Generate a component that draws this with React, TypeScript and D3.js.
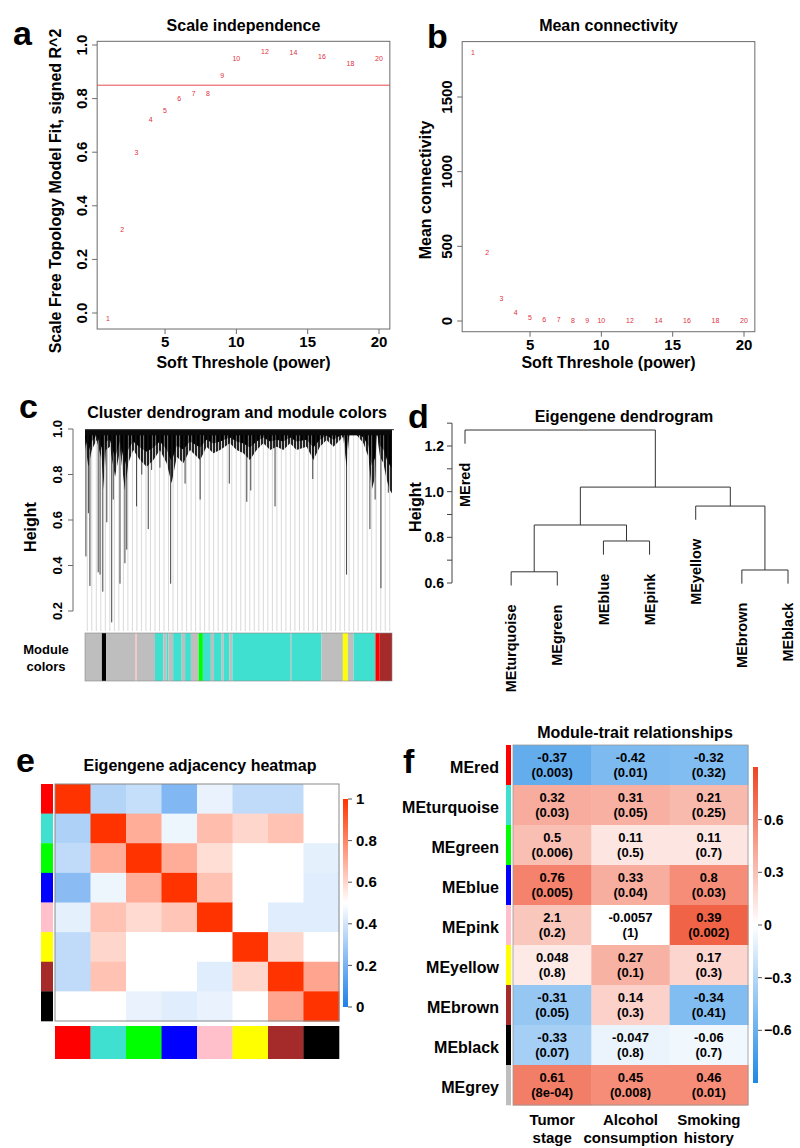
import React from 'react';
import * as d3 from 'd3';

const FONT = "'Liberation Sans', Arial, Helvetica, sans-serif";

// ---------- Panel a / b : soft threshold ----------
const powers = [1, 2, 3, 4, 5, 6, 7, 8, 9, 10, 12, 14, 16, 18, 20];
const scaleFitR2 = [-0.02, 0.313, 0.597, 0.72, 0.754, 0.8, 0.82, 0.82, 0.887, 0.949, 0.974, 0.971, 0.957, 0.929, 0.951];
const r2Cutoff = 0.85;
const meanConnectivity = [1799, 460, 152, 58, 25, 13, 7, 4, 2, 1.5, 1, 0.6, 0.4, 0.3, 0.2];
const powerTicks = [5, 10, 15, 20];
const r2Ticks = [0, 0.2, 0.4, 0.6, 0.8, 1.0];
const kTicks = [0, 500, 1000, 1500];

// ---------- Panel c : gene dendrogram ----------
const geneHeightTicks = [0.2, 0.4, 0.6, 0.8, 1.0];
// bottom edge of dense merge band: [leaf position 0-100, height]
const denseBand: [number, number][] = [
  [0, 0.937], [1.1, 0.834], [2.2, 0.908], [3.8, 0.952], [5.4, 0.864], [6.2, 0.732], [6.8, 0.908], [8.1, 0.922],
  [9.8, 0.79], [11.4, 0.908], [13.0, 0.732], [14.1, 0.849], [15.7, 0.908], [17.9, 0.864], [20.1, 0.834],
  [22.3, 0.864], [24.4, 0.908], [26.6, 0.849], [28.2, 0.761], [29.9, 0.878], [32.0, 0.849], [34.2, 0.908],
  [37.5, 0.864], [39.6, 0.922], [41.8, 0.893], [44.0, 0.908], [47.2, 0.937], [49.4, 0.908], [51.6, 0.893],
  [53.7, 0.864], [55.9, 0.908], [58.1, 0.937], [60.3, 0.908], [62.4, 0.922], [64.6, 0.908], [66.8, 0.937],
  [68.9, 0.908], [72.2, 0.922], [74.4, 0.864], [76.5, 0.922], [78.7, 0.952], [80.9, 0.922], [84.1, 0.966],
  [85.2, 0.834], [86.1, 0.974], [88.5, 0.974], [90.7, 0.937], [92.3, 0.878], [93.4, 0.732], [94.5, 0.79],
  [95.0, 0.981], [96.1, 0.878], [97.2, 0.849], [98.3, 0.776], [99.3, 0.732], [100, 0.717],
];
// deeper branches: [leaf position, lowest height]
const deepBranches: [number, number][] = [
  [0.3, 0.44], [1.1, 0.63], [1.6, 0.31], [4.3, 0.37], [4.9, 0.36], [5.8, 0.285], [7.1, 0.59], [8.7, 0.15],
  [9.2, 0.69], [11.4, 0.32], [13.0, 0.41], [13.6, 0.47], [16.8, 0.66], [18.5, 0.8], [20.6, 0.56], [21.7, 0.82],
  [24.4, 0.83], [27.9, 0.32], [32.6, 0.76], [37.5, 0.69], [47.0, 0.76], [52.7, 0.68], [54.0, 0.73], [61.9, 0.66],
  [74.2, 0.78], [85.2, 0.36], [92.8, 0.56], [94.5, 0.69], [96.4, 0.3], [98.8, 0.72],
];
const leafLineCount = 68;
// module colour bar: [start, end, colour]
const moduleSegments: [number, number, string][] = [
  [0, 5.5, 'grey'], [5.5, 6.9, 'black'], [6.9, 16.5, 'grey'], [16.5, 16.9, 'pink'], [16.9, 22.8, 'grey'],
  [22.8, 25.5, 'turquoise'], [25.5, 26.6, 'grey'], [26.6, 27.2, 'turquoise'], [27.2, 28.7, 'grey'],
  [28.7, 31.5, 'turquoise'], [31.5, 32.6, 'grey'], [32.6, 34.5, 'turquoise'], [34.5, 37.0, 'grey'],
  [37.0, 38.4, 'green'], [38.4, 41.0, 'turquoise'], [41.0, 42.0, 'grey'], [42.0, 44.5, 'turquoise'],
  [44.5, 45.2, 'grey'], [45.2, 47.0, 'turquoise'], [47.0, 48.0, 'grey'], [48.0, 66.8, 'turquoise'],
  [66.8, 67.2, 'grey'], [67.2, 77.0, 'turquoise'], [77.0, 84.0, 'grey'], [84.0, 85.6, 'yellow'],
  [85.6, 87.5, 'grey'], [87.5, 94.6, 'turquoise'], [94.6, 96.0, 'red'], [96.0, 100, 'brown'],
];

// ---------- Panel d : eigengene dendrogram ----------
const eigenLeaves = ['MEred', 'MEturquoise', 'MEgreen', 'MEblue', 'MEpink', 'MEyellow', 'MEbrown', 'MEblack'];
// hclust-style merges: negative = leaf (1-based), positive = earlier merge; third = height
const eigenMerges: [number, number, number][] = [
  [-2, -3, 0.649], [-7, -8, 0.657], [-4, -5, 0.784], [1, 3, 0.854], [-6, 2, 0.937], [4, 5, 1.02], [-1, 6, 1.27],
];
const eigenHeightTicks = [0.6, 0.7, 0.8, 0.9, 1.0, 1.1, 1.2, 1.3];
const eigenHeightLabels = [0.6, 0.8, 1.0, 1.2];

// ---------- Panel e : adjacency heatmap ----------
const moduleColors = ['red', 'turquoise', 'green', 'blue', 'pink', 'yellow', 'brown', 'black'];
const adjacency = [
  [1, 0.33, 0.37, 0.22, 0.45, 0.36, 0.36, 0.5],
  [0.32, 1, 0.7, 0.46, 0.66, 0.6, 0.65, 0.5],
  [0.36, 0.7, 1, 0.7, 0.58, 0.5, 0.5, 0.44],
  [0.24, 0.46, 0.7, 1, 0.65, 0.5, 0.5, 0.43],
  [0.44, 0.65, 0.59, 0.64, 1, 0.5, 0.43, 0.43],
  [0.36, 0.6, 0.5, 0.5, 0.5, 1, 0.6, 0.5],
  [0.36, 0.65, 0.5, 0.5, 0.43, 0.6, 1, 0.72],
  [0.5, 0.5, 0.45, 0.43, 0.45, 0.5, 0.72, 1],
];
const adjTicks = [0, 0.2, 0.4, 0.6, 0.8, 1];

// ---------- Panel f : module-trait ----------
const traitModules = ['MEred', 'MEturquoise', 'MEgreen', 'MEblue', 'MEpink', 'MEyellow', 'MEbrown', 'MEblack', 'MEgrey'];
const traitModuleColors = ['red', 'turquoise', 'green', 'blue', 'pink', 'yellow', 'brown', 'black', 'grey'];
const traits = [['Tumor', 'stage'], ['Alcohol', 'consumption'], ['Smoking', 'history']];
const traitCorText = [
  ['-0.37', '-0.42', '-0.32'], ['0.32', '0.31', '0.21'], ['0.5', '0.11', '0.11'], ['0.76', '0.33', '0.8'],
  ['2.1', '-0.0057', '0.39'], ['0.048', '0.27', '0.17'], ['-0.31', '0.14', '-0.34'], ['-0.33', '-0.047', '-0.06'],
  ['0.61', '0.45', '0.46'],
];
const traitPText = [
  ['0.003', '0.01', '0.32'], ['0.03', '0.05', '0.25'], ['0.006', '0.5', '0.7'], ['0.005', '0.04', '0.03'],
  ['0.2', '1', '0.002'], ['0.8', '0.1', '0.3'], ['0.05', '0.3', '0.41'], ['0.07', '0.8', '0.7'],
  ['8e-04', '0.008', '0.01'],
];
// colour level of each cell
const traitColorLevel = [
  [-0.62, -0.52, -0.5], [0.4, 0.38, 0.33], [0.31, 0.12, 0.12], [0.6, 0.39, 0.55], [0.27, 0, 0.75],
  [0.1, 0.37, 0.2], [-0.42, 0.22, -0.5], [-0.36, -0.08, -0.06], [0.62, 0.55, 0.55],
];
const traitTicks = [-0.6, -0.3, 0, 0.3, 0.6];

const COLORS: Record<string, string> = {
  grey: '#BEBEBE', black: '#000000', pink: '#FFC0CB', turquoise: '#40E0D0', green: '#00FF00',
  yellow: '#FFFF00', red: '#FF0000', brown: '#A52A2A', blue: '#0000FF',
};

const bold = { fontWeight: 700 as const };

function PanelLabel({ x, y, t }: { x: number; y: number; t: string }) {
  return <text x={x} y={y} fontSize={34} style={bold}>{t}</text>;
}

function ThresholdPanel({ kind }: { kind: 'a' | 'b' }) {
  const isA = kind === 'a';
  const x = isA ? d3.scaleLinear().domain([1, 20]).range([108, 379]) : d3.scaleLinear().domain([1, 20]).range([473, 744]);
  const y = isA ? d3.scaleLinear().domain([0, 1]).range([313, 45]) : d3.scaleLinear().domain([0, 1500]).range([321, 97]);
  const vals = isA ? scaleFitR2 : meanConnectivity;
  const [ylo, yhi] = d3.extent(vals) as [number, number];
  const ypad = (yhi - ylo) * 0.04;
  const xl = x(1 - 0.76), xr = x(20.76);
  const yt = y(yhi + ypad), yb = y(ylo - ypad);
  const yTicks = isA ? r2Ticks : kTicks;
  const fmt = isA ? d3.format('.1f') : d3.format('d');
  const cx = (xl + xr) / 2;
  return (
    <g>
      <rect x={xl} y={yt} width={xr - xl} height={yb - yt} fill="none" stroke="#6b6b6b" strokeWidth={1} />
      {isA && <line x1={xl} x2={xr} y1={y(r2Cutoff)} y2={y(r2Cutoff)} stroke="#e84a4a" strokeWidth={1} />}
      {powers.map((p, i) => (
        <text key={p} x={x(p)} y={y(vals[i])} dy="0.35em" textAnchor="middle" fontSize={7} fill="#e0303a">{p}</text>
      ))}
      {powerTicks.map((t) => (
        <g key={t}>
          <line x1={x(t)} x2={x(t)} y1={yb} y2={yb + 5} stroke="#6b6b6b" />
          <text x={x(t)} y={yb + 18} textAnchor="middle" fontSize={15} style={bold}>{t}</text>
        </g>
      ))}
      {yTicks.map((t) => (
        <g key={t}>
          <line x1={xl - 5} x2={xl} y1={y(t)} y2={y(t)} stroke="#6b6b6b" />
          <text transform={`translate(${xl - 15},${y(t)}) rotate(-90)`} dy="0.35em" textAnchor="middle" fontSize={15} style={bold}>{fmt(t)}</text>
        </g>
      ))}
      <text x={cx} y={368} textAnchor="middle" fontSize={16} style={bold}>Soft Threshole (power)</text>
      <text x={cx} y={31} textAnchor="middle" fontSize={16} style={bold}>{isA ? 'Scale independence' : 'Mean connectivity'}</text>
      <text transform={`translate(${isA ? 55 : 425},${isA ? 191 : 190}) rotate(-90)`} dy="0.35em" textAnchor="middle" fontSize={16} style={bold}>
        {isA ? 'Scale Free Topology Model Fit, signed R^2' : 'Mean connectivity'}
      </text>
    </g>
  );
}

function PanelC() {
  const x = d3.scaleLinear().domain([0, 100]).range([85, 392]);
  const y = d3.scaleLinear().domain([0.2, 1.0]).range([611, 429]);
  const band = d3.area<[number, number]>().x((d) => x(d[0])).y0(y(0.997)).y1((d) => y(d[1]));
  const leafPos = d3.range(leafLineCount).map((i) => (i + 0.5) * (100 / leafLineCount));
  const barTop = 633, barBot = 681;
  return (
    <g>
      <defs>
        <pattern id="hatchC" patternUnits="userSpaceOnUse" width={3} height={4}>
          <rect x={0} y={0} width={2.2} height={4} fill="#0d0d0d" />
        </pattern>
        <pattern id="hatchC2" patternUnits="userSpaceOnUse" width={4} height={4}>
          <rect x={0.5} y={0} width={3} height={4} fill="#000" />
        </pattern>
      </defs>
      <text x={237} y={418} textAnchor="middle" fontSize={16} style={bold}>Cluster dendrogram and module colors</text>
      <line x1={73} x2={73} y1={y(1)} y2={y(0.2)} stroke="#6b6b6b" />
      {geneHeightTicks.map((t) => (
        <g key={t}>
          <line x1={68} x2={73} y1={y(t)} y2={y(t)} stroke="#6b6b6b" />
          <text transform={`translate(57,${y(t)}) rotate(-90)`} dy="0.35em" textAnchor="middle" fontSize={13} style={bold}>{t.toFixed(1)}</text>
        </g>
      ))}
      <text transform={`translate(30,527) rotate(-90)`} dy="0.35em" textAnchor="middle" fontSize={16} style={bold}>Height</text>
      {leafPos.map((p, i) => (
        <line key={i} x1={x(p)} x2={x(p)} y1={y(0.99)} y2={631} stroke="#cfcfcf" strokeWidth={0.8} />
      ))}
      {deepBranches.map(([p, h], i) => (
        <line key={i} x1={x(p)} x2={x(p)} y1={y(0.97)} y2={y(h)} stroke="#444" strokeWidth={1} />
      ))}
      <path d={band(denseBand) || ''} fill="url(#hatchC)" opacity={0.9} />
      <path d={band(denseBand.map(([p, h]) => [p, 1 - (1 - h) * 0.6] as [number, number])) || ''} fill="url(#hatchC2)" />
      <rect x={x(0)} y={y(0.997)} width={x(100) - x(0)} height={y(0.972) - y(0.997)} fill="#0a0a0a" />
      <line x1={x(0)} x2={x(100) + 2} y1={y(0.997)} y2={y(0.997)} stroke="#333" strokeWidth={1} />
      {moduleSegments.map(([s, e, c], i) => (
        <rect key={i} x={x(s)} y={barTop} width={x(e) - x(s)} height={barBot - barTop} fill={COLORS[c]} />
      ))}
      <rect x={x(0)} y={barTop} width={x(100) - x(0)} height={barBot - barTop} fill="none" stroke="#888" strokeWidth={0.6} />
      <text x={46} y={654} textAnchor="middle" fontSize={13} style={bold}>Module</text>
      <text x={46} y={671} textAnchor="middle" fontSize={13} style={bold}>colors</text>
    </g>
  );
}

function PanelD() {
  const xi = d3.scaleLinear().domain([0, eigenLeaves.length - 1]).range([465, 788]);
  const y = d3.scaleLinear().domain([0.6, 1.2]).range([583, 446]);
  const hang = 0.06;
  const mergeX: number[] = [];
  const nodeX = (n: number) => (n < 0 ? xi(-n - 1) : mergeX[n - 1]);
  const nodeH = (n: number) => (n < 0 ? null : eigenMerges[n - 1][2]);
  const segs: { x1: number; y1: number; x2: number; y2: number }[] = [];
  const leafEnds: { i: number; y: number }[] = [];
  eigenMerges.forEach(([a, b, h]) => {
    const xa = nodeX(a), xb = nodeX(b);
    mergeX.push((xa + xb) / 2);
    segs.push({ x1: xa, x2: xb, y1: y(h), y2: y(h) });
    [a, b].forEach((n, k) => {
      const xx = k === 0 ? xa : xb;
      const hh = nodeH(n);
      const endH = hh === null ? h - hang : hh;
      segs.push({ x1: xx, x2: xx, y1: y(h), y2: y(endH) });
      if (n < 0) leafEnds.push({ i: -n - 1, y: y(h - hang) });
    });
  });
  return (
    <g>
      <text x={624} y={422} textAnchor="middle" fontSize={16} style={bold}>Eigengene dendrogram</text>
      <line x1={452} x2={452} y1={y(1.3)} y2={y(0.6)} stroke="#444" />
      {eigenHeightTicks.map((t) => (
        <line key={t} x1={447} x2={452} y1={y(t)} y2={y(t)} stroke="#444" />
      ))}
      {eigenHeightLabels.map((t) => (
        <text key={t} x={444} y={y(t)} dy="0.35em" textAnchor="end" fontSize={14} style={bold}>{t.toFixed(1)}</text>
      ))}
      <text transform={`translate(415,507) rotate(-90)`} dy="0.35em" textAnchor="middle" fontSize={16} style={bold}>Height</text>
      {segs.map((s, i) => (
        <line key={i} x1={s.x1} x2={s.x2} y1={s.y1} y2={s.y2} stroke="#333" strokeWidth={1} />
      ))}
      {leafEnds.map(({ i, y: ly }) => (
        <text key={i} transform={`translate(${xi(i)},${ly + 19}) rotate(-90)`} dy="0.35em" textAnchor="end" fontSize={14.5} style={bold}>{eigenLeaves[i]}</text>
      ))}
    </g>
  );
}

function PanelE() {
  const n = moduleColors.length;
  const x = d3.scaleBand<number>().domain(d3.range(n)).range([55, 339]);
  const y = d3.scaleBand<number>().domain(d3.range(n)).range([784, 1021]);
  const color = d3.scaleLinear<string>().domain([0, 0.5, 1]).range(['#1E7FE8', '#FFFFFF', '#FF3300']).interpolate(d3.interpolateRgb);
  const cb = d3.scaleLinear().domain([0, 1]).range([1007, 799]);
  const stops = d3.range(0, 1.0001, 0.05);
  return (
    <g>
      <defs>
        <linearGradient id="gradE" x1="0" x2="0" y1="1" y2="0">
          {stops.map((s) => <stop key={s} offset={s} stopColor={color(s)} />)}
        </linearGradient>
      </defs>
      <text x={200} y={771} textAnchor="middle" fontSize={16} style={bold}>Eigengene adjacency heatmap</text>
      {adjacency.map((row, r) => row.map((v, c) => (
        <rect key={`${r}-${c}`} x={x(c)} y={y(r)} width={x.bandwidth() + 0.5} height={y.bandwidth() + 0.5} fill={color(v)} />
      )))}
      <rect x={55} y={784} width={284} height={237} fill="none" stroke="#8a8a8a" strokeWidth={1} />
      {moduleColors.map((c, i) => (
        <g key={c}>
          <rect x={41} y={y(i)} width={12} height={y.bandwidth() + 0.3} fill={COLORS[c]} />
          <rect x={x(i)} y={1026} width={x.bandwidth() + 0.3} height={33} fill={COLORS[c]} />
        </g>
      ))}
      <rect x={343} y={cb(1)} width={5} height={cb(0) - cb(1)} fill="url(#gradE)" />
      {adjTicks.map((t) => (
        <g key={t}>
          <line x1={348} x2={352} y1={cb(t)} y2={cb(t)} stroke="#555" />
          <text x={356} y={cb(t)} dy="0.35em" fontSize={15} style={bold}>{d3.format('~g')(t)}</text>
        </g>
      ))}
    </g>
  );
}

function PanelF() {
  const x = d3.scaleBand<number>().domain(d3.range(traits.length)).range([513, 748]);
  const y = d3.scaleBand<number>().domain(d3.range(traitModules.length)).range([745, 1105]);
  const color = d3.scaleLinear<string>().domain([-0.9, 0, 0.9]).range(['#1E88E5', '#FFFFFF', '#EE4422']);
  const cb = d3.scaleLinear().domain([-0.9, 0.9]).range([1083, 767]);
  const stops = d3.range(0, 1.0001, 0.05);
  return (
    <g>
      <defs>
        <linearGradient id="gradF" x1="0" x2="0" y1="1" y2="0">
          {stops.map((s) => <stop key={s} offset={s} stopColor={color(-0.9 + 1.8 * s)} />)}
        </linearGradient>
      </defs>
      <text x={635} y={738} textAnchor="middle" fontSize={16} style={bold}>Module-trait relationships</text>
      {traitModules.map((m, r) => (
        <g key={m}>
          <rect x={506} y={y(r)} width={5} height={y.bandwidth() + 0.3} fill={COLORS[traitModuleColors[r]]} />
          <text x={499} y={(y(r) as number) + y.bandwidth() / 2 + 2} dy="0.35em" textAnchor="end" fontSize={16} style={bold}>{m}</text>
          {traits.map((_, c) => (
            <g key={c}>
              <rect x={x(c)} y={y(r)} width={x.bandwidth() + 0.5} height={y.bandwidth() + 0.5} fill={color(traitColorLevel[r][c])} />
              <text x={(x(c) as number) + x.bandwidth() / 2} y={(y(r) as number) + y.bandwidth() / 2 - 3} textAnchor="middle" fontSize={13} style={bold}>{traitCorText[r][c]}</text>
              <text x={(x(c) as number) + x.bandwidth() / 2} y={(y(r) as number) + y.bandwidth() / 2 + 12} textAnchor="middle" fontSize={13} style={bold}>({traitPText[r][c]})</text>
            </g>
          ))}
        </g>
      ))}
      <rect x={513} y={745} width={235} height={360} fill="none" stroke="#999" strokeWidth={0.8} />
      {traits.map(([l1, l2], c) => (
        <g key={c}>
          <text x={(x(c) as number) + x.bandwidth() / 2} y={1125} textAnchor="middle" fontSize={15} style={bold}>{l1}</text>
          <text x={(x(c) as number) + x.bandwidth() / 2} y={1143} textAnchor="middle" fontSize={15} style={bold}>{l2}</text>
        </g>
      ))}
      <rect x={753} y={cb(0.9)} width={5} height={cb(-0.9) - cb(0.9)} fill="url(#gradF)" />
      {traitTicks.map((t) => (
        <g key={t}>
          <line x1={758} x2={762} y1={cb(t)} y2={cb(t)} stroke="#555" />
          <text x={764} y={cb(t)} dy="0.35em" fontSize={14} style={bold}>{d3.format('~g')(t)}</text>
        </g>
      ))}
    </g>
  );
}

export default function App() {
  return (
    <div style={{ position: 'absolute', left: 0, top: 0 }}>
      <svg width={800} height={1148} style={{ display: 'block', background: '#fff' }} fontFamily={FONT}>
        <ThresholdPanel kind="a" />
        <ThresholdPanel kind="b" />
        <PanelC />
        <PanelD />
        <PanelE />
        <PanelF />
        <PanelLabel x={13} y={45} t="a" />
        <PanelLabel x={427} y={48} t="b" />
        <PanelLabel x={19} y={418} t="c" />
        <PanelLabel x={408} y={428} t="d" />
        <PanelLabel x={16} y={772} t="e" />
        <PanelLabel x={403} y={773} t="f" />
      </svg>
    </div>
  );
}
